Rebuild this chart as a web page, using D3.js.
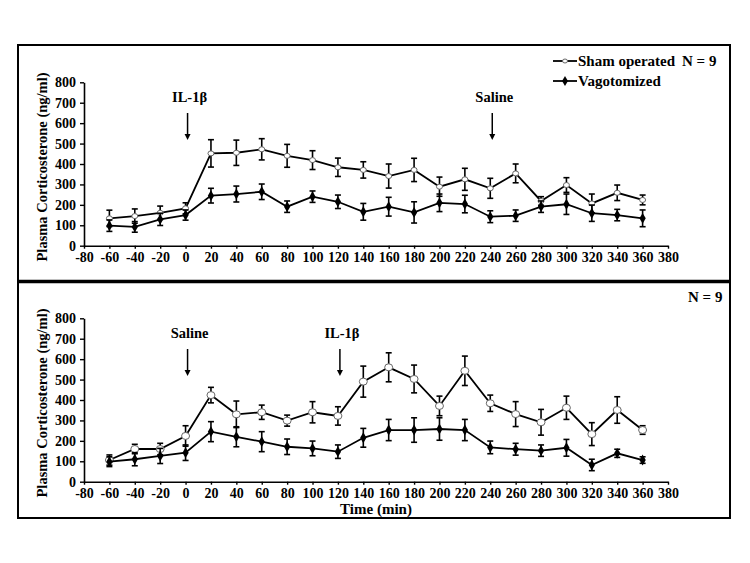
<!DOCTYPE html>
<html><head><meta charset="utf-8">
<script src="https://cdn.jsdelivr.net/npm/d3@7"></script>
<style>body{margin:0;background:#fff}text{font-family:"Liberation Serif","Times New Roman",serif;font-weight:bold;fill:#000}</style>
</head><body><svg id="c" width="750" height="563"></svg>
<script>
const times = [-60,-40,-20,0,20,40,60,80,100,120,140,160,180,200,220,240,260,280,300,320,340,360];
const xTicks = [-80,-60,-40,-20,0,20,40,60,80,100,120,140,160,180,200,220,240,260,280,300,320,340,360,380];
const yTicks = [0,100,200,300,400,500,600,700,800];
// Top panel: IL-1β at 0, saline at 240
const shamTop    = [134,145,161,183,452,455,472,440,419,384,371,341,371,289,325,281,354,219,297,207,259,224];
const shamTopErr = [40,35,33,27,67,62,52,56,46,45,40,59,57,47,54,49,46,21,36,46,38,24];
const vagoTop    = [98,92,129,150,245,253,264,191,240,215,166,191,163,210,204,142,147,191,203,159,150,134];
const vagoTopErr = [28,26,30,25,36,39,38,28,28,33,41,46,52,43,43,29,28,28,50,40,28,41];
// Bottom panel: saline at 0, IL-1β at 120
const shamBot    = [106,160,160,224,424,330,340,299,340,322,490,560,503,371,543,384,331,291,362,233,351,253];
const shamBotErr = [25,23,28,50,38,65,35,27,52,45,76,71,68,48,72,40,61,63,57,56,65,21];
const vagoBot    = [98,110,126,142,245,220,196,171,163,147,215,253,253,258,253,168,159,152,166,82,139,106];
const vagoBotErr = [24,32,37,38,49,49,49,38,36,33,46,52,60,55,52,31,29,28,41,28,20,16];

const svg = d3.select("#c");
svg.append("rect").attr("x",18).attr("y",45).attr("width",712).attr("height",473)
  .attr("fill","none").attr("stroke","#000").attr("stroke-width",2);
svg.append("line").attr("x1",18).attr("x2",730).attr("y1",281.5).attr("y2",281.5)
  .attr("stroke","#000").attr("stroke-width",3.5);

const fmt = d => String(d);   // plain hyphen-minus like the reference

function panel(cfg){
  const x = d3.scaleLinear().domain([-80,380]).range([84,668]);
  const y = d3.scaleLinear().domain([0,800]).range([cfg.y0,cfg.y800]);
  const g = svg.append("g");
  const xa = g.append("g").attr("transform",`translate(0,${cfg.y0})`)
    .call(d3.axisBottom(x).tickValues(xTicks).tickFormat(fmt).tickSize(3).tickSizeOuter(0).tickPadding(3));
  const ya = g.append("g").attr("transform",`translate(84,0)`)
    .call(d3.axisLeft(y).tickValues(yTicks).tickFormat(fmt).tickSize(4).tickSizeOuter(0).tickPadding(4));
  [xa,ya].forEach(a=>{
    a.select(".domain").attr("stroke","#000").attr("stroke-width",1.6);
    a.selectAll(".tick line").attr("stroke","#000").attr("stroke-width",1.4);
    a.selectAll("text").attr("font-size",14).attr("font-family","Liberation Serif").attr("font-weight","bold").attr("fill","#000");
  });
  g.append("text").attr("transform",`translate(47,${(cfg.y0+cfg.y800)/2+3}) rotate(-90)`)
    .attr("text-anchor","middle").attr("font-size",14.5).text("Plasma Corticosterone (ng/ml)");
  const series = [
    {v:cfg.sham,e:cfg.shamErr,open:true},
    {v:cfg.vago,e:cfg.vagoErr,open:false}
  ];
  const line = d3.line().x((d,i)=>x(times[i])).y(d=>y(d));
  series.forEach(s=>{
    g.append("path").datum(s.v).attr("d",line).attr("fill","none").attr("stroke","#000").attr("stroke-width",1.8);
    const eb = g.append("g");
    s.v.forEach((v,i)=>{
      const cx=x(times[i]), yt=y(v+s.e[i]), yb=y(Math.max(0,v-s.e[i]));
      eb.append("line").attr("x1",cx).attr("x2",cx).attr("y1",yt).attr("y2",yb).attr("stroke","#000").attr("stroke-width",1.6);
      eb.append("line").attr("x1",cx-3).attr("x2",cx+3).attr("y1",yt).attr("y2",yt).attr("stroke","#000").attr("stroke-width",1.6);
      eb.append("line").attr("x1",cx-3).attr("x2",cx+3).attr("y1",yb).attr("y2",yb).attr("stroke","#000").attr("stroke-width",1.6);
    });
    s.v.forEach((v,i)=>{
      const cx=x(times[i]), cy=y(v);
      if(s.open){
        g.append("ellipse").attr("cx",cx).attr("cy",cy).attr("rx",cfg.mr+0.5).attr("ry",cfg.mr).attr("fill","#fff").attr("stroke","#666").attr("stroke-width",1);
      } else {
        g.append("path").attr("transform",`translate(${cx},${cy})`)
          .attr("d",d3.symbol(d3.symbolDiamond,34)()).attr("fill","#000");
      }
    });
  });
  cfg.notes.forEach(n=>{
    const ax = x(n.t)+2;
    g.append("text").attr("x",ax+2).attr("y",cfg.noteY).attr("text-anchor","middle").attr("font-size",14.5).text(n.label);
    g.append("line").attr("x1",ax).attr("x2",ax).attr("y1",cfg.noteY+11).attr("y2",cfg.noteY+34).attr("stroke","#000").attr("stroke-width",1.5);
    g.append("path").attr("d",`M${ax-3},${cfg.noteY+32}L${ax+3},${cfg.noteY+32}L${ax},${cfg.noteY+38}Z`).attr("fill","#000");
  });
  return {x,y,g};
}

panel({y0:245.7,y800:82.3,sham:shamTop,shamErr:shamTopErr,vago:vagoTop,vagoErr:vagoTopErr,mr:2.5,noteY:102,
  notes:[{t:0,label:"IL-1β"},{t:240,label:"Saline"}]});
panel({y0:481.7,y800:318.3,sham:shamBot,shamErr:shamBotErr,vago:vagoBot,vagoErr:vagoBotErr,mr:3.5,noteY:338,
  notes:[{t:0,label:"Saline"},{t:120,label:"IL-1β"}]});

const lg = svg.append("g");
const legendItems = ["Sham operated","Vagotomized"];
legendItems.forEach((t,i)=>{
  const ly = 61 + i*20;
  lg.append("line").attr("x1",553).attr("x2",577).attr("y1",ly).attr("y2",ly).attr("stroke","#000").attr("stroke-width",1.8);
  if(i===0) lg.append("ellipse").attr("cx",565).attr("cy",ly).attr("rx",2.5).attr("ry",2).attr("fill","#fff").attr("stroke","#666");
  else lg.append("path").attr("transform",`translate(565,${ly})`).attr("d",d3.symbol(d3.symbolDiamond,30)()).attr("fill","#000");
  lg.append("text").attr("x",578).attr("y",ly+5).attr("font-size",15).text(t);
});
svg.append("text").attr("x",682).attr("y",66).attr("font-size",15).text("N = 9");
svg.append("text").attr("x",688).attr("y",302).attr("font-size",15).text("N = 9");
svg.append("text").attr("x",376).attr("y",513.5).attr("text-anchor","middle").attr("font-size",15).text("Time (min)");
</script></body></html>
